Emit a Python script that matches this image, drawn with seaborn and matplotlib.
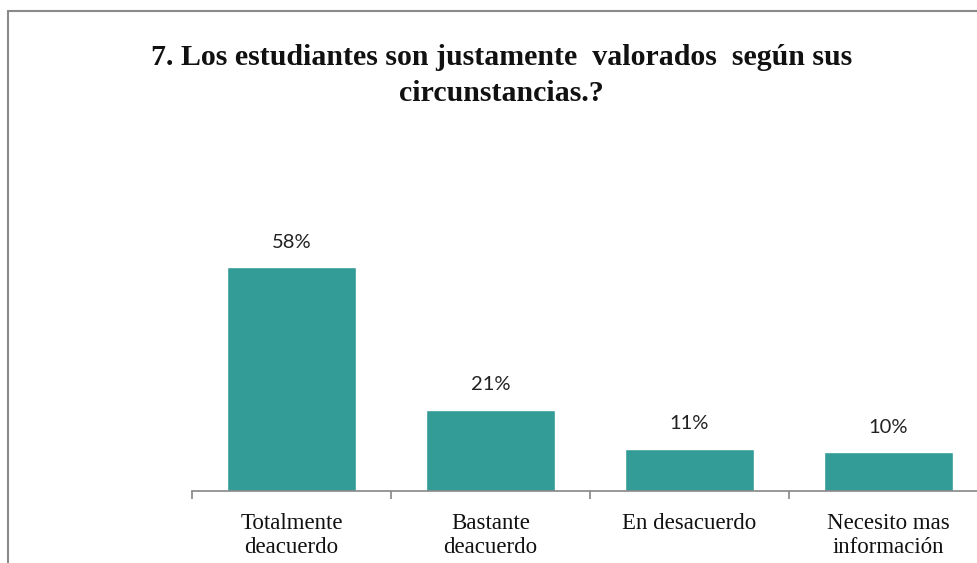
import matplotlib.pyplot as plt
import seaborn as sns
from matplotlib.lines import Line2D

# Data
categories = ['Totalmente\ndeacuerdo', 'Bastante\ndeacuerdo', 'En desacuerdo', 'Necesito mas\ninformación']
values = [58, 21, 11, 10]
labels = ['58%', '21%', '11%', '10%']
title_lines = ['7. Los estudiantes son justamente  valorados  según sus', 'circunstancias.?']

sns.set_theme(style='white')

fig = plt.figure(figsize=(9.77, 5.63), dpi=100)
ax = fig.add_axes([192 / 977, 1 - 491 / 563, 796 / 977, 270 / 563])

sns.barplot(x=categories, y=values, color='#349C96', saturation=1, width=0.65, ax=ax)
ax.set_xlim(-0.5, 3.5)
ax.set_ylim(0, 70)

# Value labels
ax.bar_label(ax.containers[0], labels=labels, padding=12, fontsize=14.5,
             family=['Lato', 'DejaVu Sans'], color='#222222')

# Axis styling
for side in ['top', 'right', 'left']:
    ax.spines[side].set_visible(False)
ax.spines['bottom'].set_color('#868686')
ax.spines['bottom'].set_linewidth(1.2)
ax.set_yticks([])
ax.set_xticks([-0.5, 0.5, 1.5, 2.5, 3.5], minor=True)
ax.tick_params(axis='x', which='minor', bottom=True, length=6, width=1.2, color='#868686')
ax.tick_params(axis='x', which='major', bottom=False, length=0, pad=16)
for lbl in ax.get_xticklabels():
    lbl.set_family('Liberation Serif')
    lbl.set_fontsize(16.5)
    lbl.set_color('#111111')
    lbl.set_linespacing(1.15)

# Title, two lines
for i, line in enumerate(title_lines):
    fig.text(0.513, 1 - (65 + 36 * i) / 563, line, ha='center', va='baseline',
             family='Liberation Serif', fontweight='bold', fontsize=21.5, color='#111111')

# Chart frame (only left and top visible in the crop)
fig.add_artist(Line2D([8 / 977, 8 / 977], [0, 1 - 11 / 563], color='#8a8a8a', lw=1.5))
fig.add_artist(Line2D([8 / 977, 1], [1 - 11 / 563, 1 - 11 / 563], color='#8a8a8a', lw=1.5))

fig.savefig('out.png', dpi=100)
